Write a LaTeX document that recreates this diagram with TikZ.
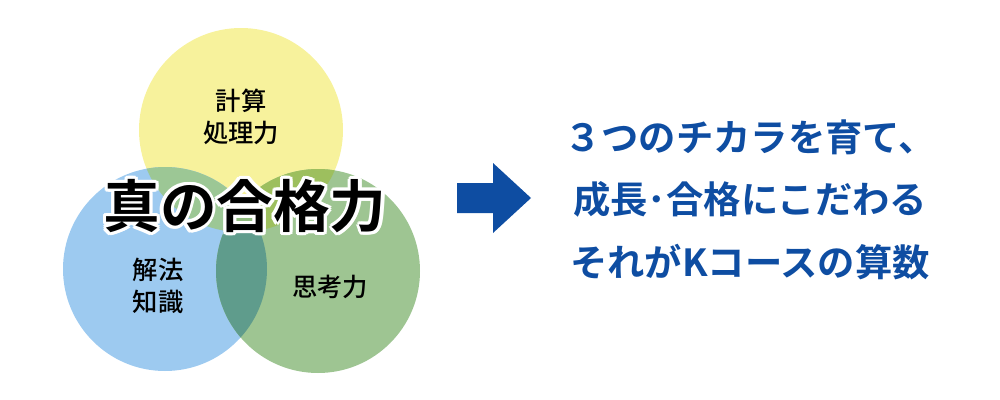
\documentclass[tikz,border=0pt]{standalone}
\usetikzlibrary{calc}
\usepackage{fontspec}
\newfontfamily\jp{Noto Sans CJK JP Bold}
\newfontfamily\jpm{Noto Sans CJK JP Medium}
\definecolor{cy}{HTML}{F7F29C}
\definecolor{cb}{HTML}{9DCAF0}
\definecolor{cg}{HTML}{9EC592}
\definecolor{cyb}{HTML}{9CC795}
\definecolor{cyg}{HTML}{9DBF5E}
\definecolor{cbg}{HTML}{5F9C8C}
\definecolor{cyan}{HTML}{8FBB7E}
\definecolor{navy}{HTML}{0E4DA2}
\begin{document}
\begin{tikzpicture}[x=0.75pt,y=-0.75pt,
  lab/.style={font=\jpm\fontsize{19}{24}\selectfont,align=center,text=black},
  rt/.style={font=\jp\fontsize{28}{47}\selectfont,text=navy,align=left},
  tt/.style={font=\jp\fontsize{42.5}{50}\selectfont}]
\useasboundingbox (0,0) rectangle (1000,400);
\coordinate (Y) at (241,130);
\coordinate (B) at (165,269);
\coordinate (G) at (318,271);
\def\R{102}
\fill[cy] (Y) circle (\R);
\fill[cb] (B) circle (\R);
\fill[cg] (G) circle (\R);
\begin{scope}\clip (Y) circle (\R); \fill[cyb] (B) circle (\R); \fill[cyg] (G) circle (\R);
 \clip (B) circle (\R); \fill[cyan] (G) circle (\R);\end{scope}
\begin{scope}\clip (B) circle (\R); \clip (G) circle (\R); \fill[cbg] (0,0) rectangle (600,400);
\clip (Y) circle(\R); \fill[cyan] (0,0) rectangle (600,400);\end{scope}
\node[lab] (t1) at (241,117) {計算\\処理力};
\node[lab] (t2) at (158,286) {解法\\知識};
\node[lab] (t3) at (330,287) {思考力};
\foreach \a in {0,30,...,330}{
  \node[tt,text=white] at ($(245,206)+(\a:3.2)$) {真の合格力};}
\node[tt,text=black] (title) at (245,206) {真の合格力};
\fill[navy] (457,183) -- (493,183) -- (493,163) -- (531,198) -- (493,233) -- (493,213) -- (457,213) -- cycle;
\node[rt] (r1) at (750,137) {３つのチカラを育て、};
\node[rt] (r2) at (750,199) {成長･合格にこだわる};
\node[rt] (r3) at (750,262) {それがKコースの算数};
\end{tikzpicture}
\end{document}
